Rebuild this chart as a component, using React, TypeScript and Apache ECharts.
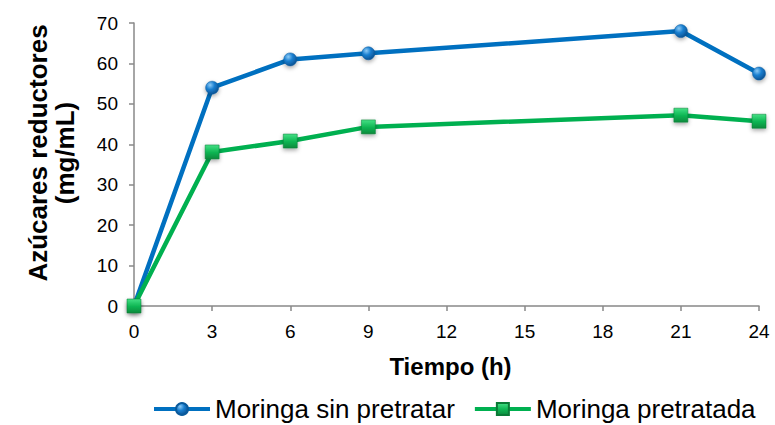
import React, { useEffect, useRef } from "react";
import * as echarts from "echarts";

// Hours of hydrolysis and reducing-sugar concentration (mg/mL)
const hours = [0, 3, 6, 9, 21, 24];
const sinPretratar = [0, 54, 61, 62.5, 68, 57.5];
const pretratada = [0, 38.1, 40.8, 44.3, 47.2, 45.7];
const seriesNames = ["Moringa sin pretratar", "Moringa pretratada"];
const yTitle = "Azúcares reductores\n(mg/mL)";
const xTitle = "Tiempo (h)";

const FONT = "'Liberation Sans', Arial, sans-serif";
const AXIS_GREY = "#888888";

const blueMarker = new echarts.graphic.RadialGradient(0.35, 0.3, 0.75, [
  { offset: 0, color: "#8ccaf5" },
  { offset: 0.45, color: "#1a7fd0" },
  { offset: 1, color: "#0a4f8f" },
]);

const greenMarker = new echarts.graphic.LinearGradient(0, 0, 0, 1, [
  { offset: 0, color: "#45e085" },
  { offset: 0.5, color: "#10b855" },
  { offset: 1, color: "#0a8a3c" },
]);

export default function App() {
  const ref = useRef<HTMLDivElement>(null);

  useEffect(() => {
    if (!ref.current) return;
    const chart = echarts.init(ref.current, undefined, { renderer: "svg" });
    chart.setOption({
      animation: false,
      backgroundColor: "#ffffff",
      grid: { left: 134, right: 16, top: 23, bottom: 119, containLabel: false },
      graphic: [
        {
          type: "text",
          x: 51,
          y: 153,
          rotation: Math.PI / 2,
          style: {
            text: yTitle,
            align: "center",
            verticalAlign: "middle",
            font: `bold 26px ${FONT}`,
            lineHeight: 27,
            fill: "#000",
          },
        },
      ],
      xAxis: {
        type: "value",
        min: 0,
        max: 24,
        interval: 3,
        name: xTitle,
        nameLocation: "middle",
        nameGap: 48,
        nameTextStyle: { fontFamily: FONT, fontSize: 24, fontWeight: "bold", color: "#000", padding: [0, 0, 0, 8] },
        axisLine: { lineStyle: { color: AXIS_GREY, width: 1.5 } },
        axisTick: { show: true, length: 5, lineStyle: { color: AXIS_GREY, width: 1.5 } },
        axisLabel: { fontFamily: FONT, fontSize: 19, color: "#000", margin: 16 },
        splitLine: { show: false },
      },
      yAxis: {
        type: "value",
        min: 0,
        max: 70,
        interval: 10,
        axisLine: { show: true, lineStyle: { color: AXIS_GREY, width: 1.5 } },
        axisTick: { show: true, length: 5, lineStyle: { color: AXIS_GREY, width: 1.5 } },
        axisLabel: { fontFamily: FONT, fontSize: 19, color: "#000", margin: 16 },
        splitLine: { show: false },
      },
      legend: {
        left: 152,
        top: 396,
        padding: 0,
        itemWidth: 56,
        itemHeight: 15,
        itemGap: 18,
        lineStyle: { width: 4 },
        textStyle: { fontFamily: FONT, fontSize: 26, color: "#000" },
        data: seriesNames,
      },
      series: [
        {
          name: seriesNames[0],
          type: "line",
          data: hours.map((h, i) => [h, sinPretratar[i]]),
          symbol: "circle",
          symbolSize: 13,
          lineStyle: { color: "#0070c0", width: 4.5 },
          itemStyle: {
            color: blueMarker,
            borderColor: "#0a5a9c",
            borderWidth: 0.5,
            shadowColor: "rgba(0,0,0,0.35)",
            shadowBlur: 4,
            shadowOffsetY: 2,
          },
          z: 2,
        },
        {
          name: seriesNames[1],
          type: "line",
          data: hours.map((h, i) => [h, pretratada[i]]),
          symbol: "rect",
          symbolSize: 14,
          lineStyle: { color: "#00b050", width: 4.5 },
          itemStyle: {
            color: greenMarker,
            borderColor: "#0a7a36",
            borderWidth: 0.5,
            shadowColor: "rgba(0,0,0,0.35)",
            shadowBlur: 4,
            shadowOffsetY: 2,
          },
          z: 3,
        },
      ],
    });
    return () => chart.dispose();
  }, []);

  return <div ref={ref} style={{ width: 775, height: 425, position: "absolute", left: 0, top: 0 }} />;
}
